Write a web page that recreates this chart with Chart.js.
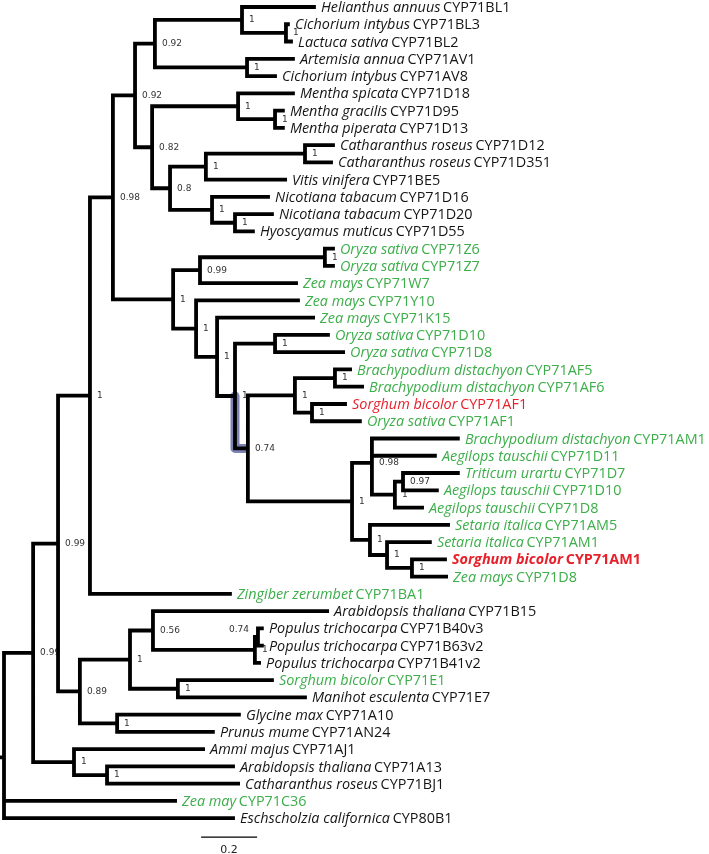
<!DOCTYPE html>
<html>
<head>
<meta charset="utf-8">
<script src="https://cdn.jsdelivr.net/npm/chart.js@4.4.1/dist/chart.umd.min.js"></script>
<style>
  html, body { margin: 0; padding: 0; background: #fff; }
  #wrap { width: 709px; height: 854px; position: relative; }
</style>
</head>
<body>
<div id="wrap"><canvas id="tree"></canvas></div>
<script>
// leaves, top to bottom
const leafSpecies = ['Helianthus annuus', 'Cichorium intybus', 'Lactuca sativa', 'Artemisia annua', 'Cichorium intybus',
  'Mentha spicata', 'Mentha gracilis', 'Mentha piperata', 'Catharanthus roseus', 'Catharanthus roseus',
  'Vitis vinifera', 'Nicotiana tabacum', 'Nicotiana tabacum', 'Hyoscyamus muticus', 'Oryza sativa',
  'Oryza sativa', 'Zea mays', 'Zea mays', 'Zea mays', 'Oryza sativa',
  'Oryza sativa', 'Brachypodium distachyon', 'Brachypodium distachyon', 'Sorghum bicolor', 'Oryza sativa',
  'Brachypodium distachyon', 'Aegilops tauschii', 'Triticum urartu', 'Aegilops tauschii', 'Aegilops tauschii',
  'Setaria italica', 'Setaria italica', 'Sorghum bicolor', 'Zea mays', 'Zingiber zerumbet',
  'Arabidopsis thaliana', 'Populus trichocarpa', 'Populus trichocarpa', 'Populus trichocarpa', 'Sorghum bicolor',
  'Manihot esculenta', 'Glycine max', 'Prunus mume', 'Ammi majus', 'Arabidopsis thaliana',
  'Catharanthus roseus', 'Zea may', 'Eschscholzia californica'];
const leafGenes = ['CYP71BL1', 'CYP71BL3', 'CYP71BL2', 'CYP71AV1', 'CYP71AV8',
  'CYP71D18', 'CYP71D95', 'CYP71D13', 'CYP71D12', 'CYP71D351',
  'CYP71BE5', 'CYP71D16', 'CYP71D20', 'CYP71D55', 'CYP71Z6',
  'CYP71Z7', 'CYP71W7', 'CYP71Y10', 'CYP71K15', 'CYP71D10',
  'CYP71D8', 'CYP71AF5', 'CYP71AF6', 'CYP71AF1', 'CYP71AF1',
  'CYP71AM1', 'CYP71D11', 'CYP71D7', 'CYP71D10', 'CYP71D8',
  'CYP71AM5', 'CYP71AM1', 'CYP71AM1', 'CYP71D8', 'CYP71BA1',
  'CYP71B15', 'CYP71B40v3', 'CYP71B63v2', 'CYP71B41v2', 'CYP71E1',
  'CYP71E7', 'CYP71A10', 'CYP71AN24', 'CYP71AJ1', 'CYP71A13',
  'CYP71BJ1', 'CYP71C36', 'CYP80B1'];
// d = dicot, m = monocot, s = sorghum AF1, t = sorghum AM1
const leafGroup = ['d','d','d','d','d','d','d','d','d','d','d','d','d','d','m',
  'm','m','m','m','m','m','m','m','s','m','m','m','m','m','m',
  'm','m','t','m','m','d','d','d','d','m','d','d','d','d','d',
  'd','m','d'];
// distance from root to each tip
const leafDepth = [1.107, 1.014, 1.025, 1.032, 0.968, 1.032, 0.996, 0.996, 1.175, 1.168,
  1.004, 0.943, 0.957, 0.889, 1.175, 1.175, 1.043, 1.050, 1.104, 1.157,
  1.211, 1.236, 1.279, 1.218, 1.271, 1.621, 1.539, 1.621, 1.546, 1.493,
  1.586, 1.521, 1.575, 1.579, 0.807, 1.154, 0.921, 0.921, 0.911, 0.957,
  1.075, 0.839, 0.746, 0.711, 0.818, 0.836, 0.611, 0.818];

// internal nodes: children (numbers are leaves)
const nodeKids = {
  root: ['A', 46, 47], A: ['B', 'C'], B: ['E', 'F'], E: ['G', 34], G: ['H', 'I'],
  H: ['J', 'K'], J: ['L', 'M'], L: [0, 'N'], N: [1, 2], M: [3, 4],
  K: ['O', 'P'], O: [5, 'Q'], Q: [6, 7], P: ['R', 'S'], R: ['T', 10], T: [8, 9],
  S: [11, 'U'], U: [12, 13], I: ['V', 'W'], V: ['X', 16], X: [14, 15],
  W: [17, 'Y'], Y: [18, 'Z'], Z: ['AA', 'AB'], AA: [19, 20], AB: ['AC', 'AD'],
  AC: ['AE', 'AF'], AE: [21, 22], AF: [23, 24], AD: ['AG', 'AH'], AG: [25, 26, 'AI'],
  AI: ['AJ', 29], AJ: [27, 28], AH: [30, 'AK'], AK: [31, 'AL'], AL: [32, 33],
  F: ['AM', 'AR'], AM: ['AN', 'AQ'], AN: [35, 'AO'], AO: ['AP', 38], AP: [36, 37],
  AQ: [39, 40], AR: [41, 42], C: [43, 'D'], D: [44, 45]
};
const nodeDepth = {
  root: 0, A: 0.104, B: 0.193, E: 0.307, G: 0.389, H: 0.468, J: 0.539, L: 0.850, N: 1.007,
  M: 0.868, K: 0.529, O: 0.836, Q: 0.968, P: 0.593, R: 0.721, T: 1.075, S: 0.743, U: 0.825,
  I: 0.604, V: 0.700, X: 1.146, W: 0.686, Y: 0.761, Z: 0.825, AA: 0.968, AB: 0.871, AC: 1.039,
  AE: 1.182, AF: 1.100, AD: 1.243, AG: 1.314, AI: 1.396, AJ: 1.425, AH: 1.307, AK: 1.368,
  AL: 1.457, F: 0.271, AM: 0.450, AN: 0.532, AO: 0.896, AP: 0.907, AQ: 0.621, AR: 0.404,
  C: 0.250, D: 0.368
};
const nodeSupport = {
  A: 0.99, B: 0.99, E: 1, G: 0.98, H: 0.92, J: 0.92, L: 1, N: 1, M: 1, K: 0.82, O: 1, Q: 1,
  P: 0.8, R: 1, T: 1, S: 1, U: 1, I: 1, V: 0.99, X: 1, W: 1, Y: 1, Z: 1, AA: 1, AB: 0.74,
  AC: 1, AE: 1, AF: 1, AD: 1, AG: 0.98, AI: 1, AJ: 0.97, AH: 1, AK: 1, AL: 1,
  F: 0.89, AM: 1, AN: 0.56, AO: 1, AP: 0.74, AQ: 1, AR: 1, C: 1, D: 1
};
const highlighted = 'AB';
const scaleBar = { start: 0.704, length: 0.2, label: '0.2' };

// positions from the tree structure
const pos = {};
function place(id) {
  if (typeof id === 'number') {
    pos['L' + id] = { x: leafDepth[id], y: id };
    return pos['L' + id];
  }
  const ys = nodeKids[id].map(k => place(k).y);
  pos[id] = { x: nodeDepth[id], y: ys.reduce((a, b) => a + b, 0) / ys.length };
  return pos[id];
}
place('root');
const key = k => (typeof k === 'number' ? 'L' + k : k);

const branches = [];
const highlight = [];
Object.keys(nodeKids).forEach(id => {
  const p = pos[id];
  nodeKids[id].forEach(k => {
    const c = pos[key(k)];
    const seg = [{ x: p.x, y: p.y }, { x: p.x, y: c.y }, { x: c.x, y: c.y }, { x: null, y: null }];
    branches.push(...seg);
    if (k === highlighted) highlight.push(...seg);
  });
});
branches.push({ x: -0.02, y: pos.root.y }, { x: 0, y: pos.root.y }, { x: null, y: null });
const bar = [{ x: scaleBar.start, y: 48.1 }, { x: scaleBar.start + scaleBar.length, y: 48.1 }];

const groupColor = { d: '#151515', m: '#3cae4a', s: '#e8202a', t: '#e8202a' };
const LEAF_FONT = '"Open Sans", sans-serif';
const LEAF_SIZE = '14.4px ';

const labelPlugin = {
  id: 'treeLabels',
  beforeDatasetsDraw(chart) {
    const { ctx, scales: { x, y } } = chart;
    ctx.save();
    ctx.font = '9px "DejaVu Sans", sans-serif';
    ctx.fillStyle = '#333';
    ctx.textBaseline = 'middle';
    Object.keys(nodeSupport).forEach(id => {
      const p = pos[id];
      const px = x.getPixelForValue(p.x);
      const py = y.getPixelForValue(p.y);
      if (id === 'AP') {
        ctx.textAlign = 'right';
        ctx.fillText(String(nodeSupport[id]), px - 9, py - 7);
      } else {
        ctx.textAlign = 'left';
        ctx.fillText(String(nodeSupport[id]), px + 7, py);
      }
    });
    ctx.restore();
  },
  afterDatasetsDraw(chart) {
    const { ctx, scales: { x, y } } = chart;
    ctx.save();
    ctx.textBaseline = 'middle';
    ctx.textAlign = 'left';
    leafSpecies.forEach((sp, i) => {
      const g = leafGroup[i];
      const bold = g === 't' ? 'bold ' : '';
      let px = x.getPixelForValue(leafDepth[i]) + 7;
      const py = y.getPixelForValue(i) + 1;
      ctx.fillStyle = groupColor[g];
      ctx.font = 'italic ' + bold + LEAF_SIZE + LEAF_FONT;
      ctx.fillText(sp, px, py);
      px += ctx.measureText(sp + ' ').width - 1;
      ctx.font = bold + LEAF_SIZE + LEAF_FONT;
      ctx.fillText(leafGenes[i], px, py);
    });
    // scale bar label
    ctx.fillStyle = '#222';
    ctx.textAlign = 'center';
    ctx.font = '11px "DejaVu Sans", sans-serif';
    ctx.fillText(scaleBar.label, x.getPixelForValue(scaleBar.start + scaleBar.length / 2), y.getPixelForValue(48.1) + 13);
    ctx.restore();
  }
};

new Chart(document.getElementById('tree'), {
  type: 'scatter',
  data: {
    datasets: [
      { data: highlight, showLine: true, spanGaps: false, borderColor: 'rgba(55, 65, 140, 0.65)', borderWidth: 9,
        borderCapStyle: 'butt', borderJoinStyle: 'round', pointRadius: 0, order: 2 },
      { data: branches, showLine: true, spanGaps: false, borderColor: '#000', borderWidth: 3.8,
        borderCapStyle: 'square', borderJoinStyle: 'miter', pointRadius: 0, order: 1 },
      { data: bar, showLine: true, borderColor: '#000', borderWidth: 1.3, pointRadius: 0, order: 0 }
    ]
  },
  options: {
    responsive: true,
    maintainAspectRatio: false,
    devicePixelRatio: 1,
    animation: false,
    layout: { padding: 0 },
    scales: {
      x: { type: 'linear', min: -4 / 280, max: 705 / 280, display: false },
      y: { type: 'linear', reverse: true, min: -7 / 17.26, max: 847 / 17.26, display: false }
    },
    plugins: { legend: { display: false }, tooltip: { enabled: false } },
    elements: { line: { tension: 0 } }
  },
  plugins: [labelPlugin]
});
</script>
</body>
</html>
